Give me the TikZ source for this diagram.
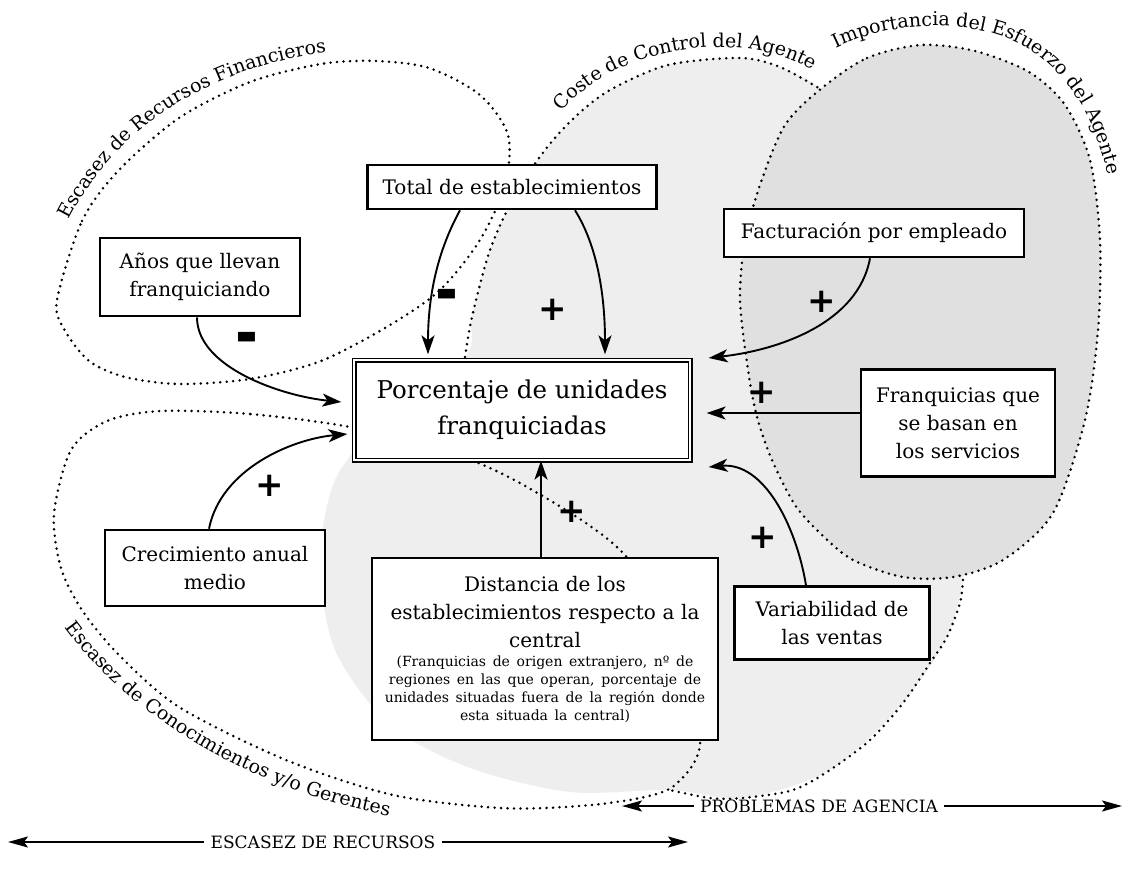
\documentclass[tikz,border=0pt]{standalone}
\usepackage{fontspec}
\setmainfont{DejaVu Serif}
\newfontfamily\signfont{DejaVu Sans}
\usetikzlibrary{arrows.meta,calc,decorations.text}
\newcommand\lblf{\fontsize{19}{19}\selectfont}
\newcommand\bigf{\fontsize{20}{28}\selectfont}
\newcommand\smallf{\fontsize{14}{18}\selectfont}
\begin{document}
\begin{tikzpicture}[x=1pt,y=-1pt,
  box/.style={draw,line width=2.6pt,fill=white,align=center,inner sep=0pt,font=\bigf},
  blob/.style={line width=2.8pt,dash pattern=on 0pt off 6.5pt,line cap=round},
  arr/.style={line width=1.9pt,-{Stealth[length=19pt,width=13pt,inset=5pt]}},
  plus/.style={font=\signfont\bfseries\fontsize{34}{34}\selectfont,inner sep=0pt},
  minus/.style={font=\signfont\bfseries\fontsize{24}{24}\selectfont,inner sep=0pt,anchor=base},
  axis/.style={line width=1.6pt,-{Stealth[length=20pt,width=11pt,inset=4pt]}},
  axlbl/.style={font=\fontsize{17}{17}\selectfont,inner sep=6pt}
]
\useasboundingbox (0,0) rectangle (1127,872);

% stippled regions
\fill[gray!13] plot[smooth cycle] coordinates {(465,357) (472,317) (490,250) (515,195) (545,150) (575,117) (610,90) (668,65) (740,58) (780,67) (822,90) (880,150) (935,260) (965,400) (970,510) (963,580) (947,637) (903,703) (830,770) (743,798) (670,790) (570,792) (470,768) (390,725) (335,650) (320,560) (335,480) (380,425)};
\fill[gray!24] plot[smooth cycle] coordinates {(822,88) (867,58) (921,45) (975,51) (1029,72) (1065,105) (1090,160) (1100,240) (1098,330) (1085,420) (1053,513) (1003,560) (953,577) (903,577) (853,560) (822,535) (795,505) (772,460) (757,417) (748,370) (740,300) (745,240) (760,185) (785,125)};

% dotted outlines
\draw[blob] plot[smooth cycle] coordinates {(57,300) (82,221) (118,171) (179,118) (250,82) (321,64) (375,61) (429,68) (480,95) (508,135) (505,185) (480,240) (440,290) (390,325) (321,361) (250,379) (179,384) (125,377) (89,361) (64,329)};
\draw[blob] plot[smooth cycle] coordinates {(350,427) (250,414) (161,411) (107,421) (71,450) (54,514) (61,568) (82,610) (118,654) (179,707) (286,760) (393,795) (500,808) (580,806) (640,798) (675,785) (700,745) (690,650) (620,550) (527,487) (450,452)};
\draw[blob] plot[smooth] coordinates {(465,357) (472,317) (490,250) (515,195) (545,150) (575,117) (610,90) (668,65) (740,58) (780,67) (822,90)};
\draw[blob] plot[smooth] coordinates {(963,580) (960,603) (947,637) (930,663) (903,703) (870,740) (830,770) (793,790) (743,798) (710,798) (670,790)};
\draw[blob] plot[smooth cycle] coordinates {(822,88) (867,58) (921,45) (975,51) (1029,72) (1065,105) (1090,160) (1100,240) (1098,330) (1085,420) (1053,513) (1003,560) (953,577) (903,577) (853,560) (822,535) (795,505) (772,460) (757,417) (748,370) (740,300) (745,240) (760,185) (785,125)};

% curved labels
\path[decorate,decoration={text along path,text align=center,text={|\lblf|Escasez de Recursos Financieros}}] (60,240) .. controls (100,140) and (200,63) .. (348,50);
\path[decorate,decoration={text along path,text align=center,text={|\lblf|Coste de Control del Agente}}] (558,117) .. controls (605,50) and (740,22) .. (818,74);
\path[decorate,decoration={text along path,text align=center,text={|\lblf|Importancia del Esfuerzo del Agente}}] (796,74) .. controls (850,28) and (930,16) .. (995,34) .. controls (1060,53) and (1108,120) .. (1114,222);
\path[decorate,decoration={text along path,text align=center,text={|\lblf|Escasez de Conocimientos y/o Gerentes}}] (44,594) .. controls (100,700) and (250,800) .. (428,822);

% boxes
\node[box,minimum width=289pt,minimum height=44pt] (tot) at (512,187) {Total de establecimientos};
\node[box,minimum width=200pt,minimum height=78pt] (anos) at (200,277) {Años que llevan\\franquiciando};
\node[box,minimum width=300pt,minimum height=48pt] (fact) at (874,233) {Facturación por empleado};
\node[box,double,double distance=2.4pt,line width=1.3pt,minimum width=336pt,minimum height=100pt,font=\fontsize{24.5}{36}\selectfont] (cen) at (522,410) {Porcentaje de unidades\\franquiciadas};
\node[box,minimum width=194pt,minimum height=107pt] (franq) at (958,423) {Franquicias que\\se basan en\\los servicios};
\node[box,minimum width=220pt,minimum height=76pt] (crec) at (215,568) {Crecimiento anual\\medio};
\node[box,minimum width=195pt,minimum height=73pt] (var) at (832,623) {Variabilidad de\\las ventas};
\node[box,text width=346pt,minimum height=182pt] (dist) at (545,649) {\bigf Distancia de los\\establecimientos respecto a la\\central\par\vspace{1pt}\smallf (Franquicias de origen extranjero, nº de\\regiones en las que operan, porcentaje de\\unidades situadas fuera de la región donde\\esta situada la central)\par};

% connectors
\draw[arr] ($(tot.south)+(-52,0)$) .. controls +(-22,40) and +(0,-60) .. ($(cen.north)+(-94,-5)$);
\draw[arr] ($(tot.south)+(63,0)$) .. controls +(22,35) and +(0,-60) .. ($(cen.north)+(83,-5)$);
\draw[arr] ($(anos.south)+(-3,0)$) .. controls +(0,50) and +(-60,-6) .. ($(cen.west)+(-12,-8)$);
\draw[arr] ($(crec.north)+(-6,0)$) .. controls +(12,-60) and +(-55,5) .. ($(cen.west)+(-6,24)$);
\draw[arr] ($(dist.north)+(-4,0)$) -- ($(cen.south)+(19,0)$);
\draw[arr] ($(fact.south)+(-4,0)$) .. controls +(-12,65) and +(70,-8) .. ($(cen.east)+(18,-52)$);
\draw[arr] ($(franq.west)+(0,-10)$) -- ($(cen.east)+(16,3)$);
\draw[arr] ($(var.north)+(-26,0)$) .. controls +(-10,-60) and +(55,-5) .. ($(cen.east)+(18,57)$);

% signs
\node[minus] (m1) at (447,313) {\scalebox{2.3}[2.8]{-}};
\node[minus] (m2) at (247,356) {\scalebox{2.3}[2.8]{-}};
\node[plus] (p1) at (553,310) {+};
\node[plus] (p2) at (270,486) {+};
\node[plus] (p3) at (572,512) {+};
\node[plus] (p4) at (822,302) {+};
\node[plus] (p5) at (762,393) {+};
\node[plus] (p6) at (763,538) {+};

% bottom axes
\node[axlbl] (pa) at (819,806) {PROBLEMAS DE AGENCIA};
\coordinate (paL) at (622,806);
\coordinate (paR) at (1122,806);
\draw[axis] (pa.west) -- (paL);
\draw[axis] (pa.east) -- (paR);
\node[axlbl] (er) at (323,842) {ESCASEZ DE RECURSOS};
\coordinate (erL) at (8,842);
\coordinate (erR) at (688,842);
\draw[axis] (er.west) -- (erL);
\draw[axis] (er.east) -- (erR);
\end{tikzpicture}
\end{document}
